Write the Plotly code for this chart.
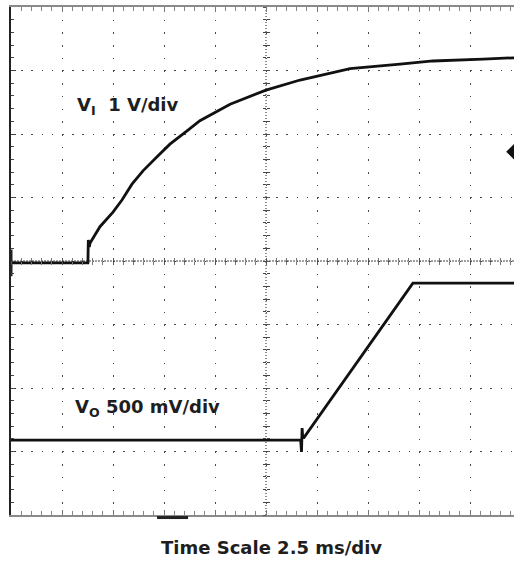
import plotly.graph_objects as go

# ---------------- data ----------------
# time in ms (2.5 ms/div, left graticule edge = 0 ms)
t_vi = [0.0, 1.2, 2.4, 3.77, 3.79, 3.84, 3.87, 4.36, 5.00, 5.44, 5.93, 6.47, 7.16,
        7.79, 8.63, 9.26, 10.74, 12.50, 14.17, 16.62, 19.07, 20.69, 23.14, 24.66]
# input voltage V_I in volts (1 V/div)
v_in = [0.0, 0.0, 0.0, 0.0, 0.36, 0.25, 0.31, 0.57, 0.80, 0.99, 1.24, 1.45, 1.67,
        1.87, 2.08, 2.24, 2.50, 2.72, 2.88, 3.06, 3.13, 3.18, 3.21, 3.23]

t_vo = [0.0, 4.0, 8.0, 12.0, 14.20, 14.24, 14.27, 14.30, 14.36, 19.70, 22.0, 24.66]
# output voltage V_O in volts (500 mV/div)
v_out = [0.0, 0.0, 0.0, 0.0, 0.0, -0.094, 0.094, 0.02, 0.02, 1.236, 1.236, 1.236]

trigger_level_v = 1.75      # trigger marker on the V_I channel (V)

# channel settings: volts per division and ground position (divisions from centre)
ch1_scale, ch1_ground_div = 1.0, -0.03
ch2_scale, ch2_ground_div = 0.5, -2.82

time_per_div = 2.5
visible_divs = 503 / 51
x_range = [0, time_per_div * visible_divs]


def ch_range(scale, ground):
    return [(-4 - ground) * scale, (4 - ground) * scale]


fig = go.Figure()

fig.add_trace(go.Scatter(x=t_vi, y=v_in, xaxis="x", yaxis="y2", mode="lines",
                         line=dict(color="#111111", width=2.8), hoverinfo="skip",
                         showlegend=False))
fig.add_trace(go.Scatter(x=t_vo, y=v_out, xaxis="x", yaxis="y3", mode="lines",
                         line=dict(color="#111111", width=2.8), hoverinfo="skip",
                         showlegend=False))
# trigger level marker (right edge) and channel-1 ground marker (left edge)
fig.add_trace(go.Scatter(x=[x_range[1]], y=[trigger_level_v], xaxis="x", yaxis="y2",
                         mode="markers", marker=dict(symbol="diamond", size=12, color="#111"),
                         hoverinfo="skip", showlegend=False))
fig.add_trace(go.Scatter(x=[0], y=[0], xaxis="x", yaxis="y2", mode="markers",
                         marker=dict(symbol="line-ns", size=19, line=dict(width=3, color="#222")),
                         cliponaxis=False, hoverinfo="skip", showlegend=False))
# dummy traces so the centre-axis tick rulers are drawn
fig.add_trace(go.Scatter(x=[None], y=[None], xaxis="x2", yaxis="y4", showlegend=False,
                         hoverinfo="skip"))
fig.add_trace(go.Scatter(x=[None], y=[None], xaxis="x3", yaxis="y5", showlegend=False,
                         hoverinfo="skip"))

centre_x_frac = 5 / visible_divs

tick_common = dict(showgrid=False, zeroline=False, showline=False, showticklabels=False,
                   tickcolor="#555", tickwidth=1, ticklen=3)

fig.update_layout(
    width=514, height=564,
    margin=dict(l=11, r=0, t=7, b=49),
    paper_bgcolor="white", plot_bgcolor="white",
    showlegend=False,
    hovermode=False,
    xaxis=dict(range=x_range, tick0=0, dtick=time_per_div, showgrid=True,
               gridcolor="#4a4a4a", gridwidth=1, griddash="1.5px,11.2px",
               zeroline=False, showline=True, linecolor="#8a8a8a", linewidth=2,
               mirror="ticks", ticks="inside", ticklen=5, tickcolor="#777",
               minor=dict(dtick=time_per_div / 5, tick0=0, ticks="inside", ticklen=4,
                          tickcolor="#888", showgrid=False),
               showticklabels=False),
    yaxis=dict(range=[-4, 4], tick0=0, dtick=1, showgrid=True, gridcolor="#4a4a4a",
               gridwidth=1, griddash="1.5px,8.7px", zeroline=False, showline=True,
               linecolor="#222", linewidth=2, mirror=False, ticks="inside", ticklen=5,
               tickcolor="#444",
               minor=dict(dtick=0.2, tick0=0, ticks="inside", ticklen=3, tickcolor="#444",
                          showgrid=False),
               showticklabels=False),
    yaxis2=dict(overlaying="y", range=ch_range(ch1_scale, ch1_ground_div), visible=False),
    yaxis3=dict(overlaying="y", range=ch_range(ch2_scale, ch2_ground_div), visible=False),
    xaxis2=dict(overlaying="x", anchor="free", position=0.5, range=x_range, tick0=0,
                dtick=time_per_div, ticks="outside",
                minor=dict(dtick=time_per_div / 5, tick0=0, ticks="outside", ticklen=3,
                           tickcolor="#777"), **tick_common),
    xaxis3=dict(overlaying="x", anchor="free", position=0.5, range=x_range, tick0=0,
                dtick=time_per_div, ticks="inside",
                minor=dict(dtick=time_per_div / 5, tick0=0, ticks="inside", ticklen=3,
                           tickcolor="#777"), **tick_common),
    yaxis4=dict(overlaying="y", anchor="free", position=centre_x_frac, range=[-4, 4],
                tick0=0, dtick=1, ticks="outside",
                minor=dict(dtick=0.2, tick0=0, ticks="outside", ticklen=3, tickcolor="#444"),
                **tick_common),
    yaxis5=dict(overlaying="y", anchor="free", position=centre_x_frac, range=[-4, 4],
                tick0=0, dtick=1, ticks="inside",
                minor=dict(dtick=0.2, tick0=0, ticks="inside", ticklen=3, tickcolor="#444"),
                **tick_common),
    shapes=[
        dict(type="line", xref="paper", yref="y", x0=0, x1=1, y0=0, y1=0, layer="below",
             line=dict(color="#a0a0a0", width=2, dash="2px,1px")),
        dict(type="line", xref="x", yref="paper", x0=5 * time_per_div, x1=5 * time_per_div,
             y0=0, y1=1, layer="below", line=dict(color="#444", width=1.2, dash="1px,2px")),
        dict(type="line", xref="x", yref="paper", x0=7.16, x1=8.68, y0=-0.005, y1=-0.005,
             line=dict(color="#222", width=3)),
    ],
    annotations=[
        dict(text="<b>V<sub>I</sub>  1 V/div</b>", xref="paper", yref="paper",
             x=(75 - 11) / 503, y=(515 - 106) / 508, xanchor="left", yanchor="middle",
             showarrow=False, font=dict(family="DejaVu Sans", size=18, color="#1e1e1e")),
        dict(text="<b>V<sub>O</sub> 500 mV/div</b>", xref="paper", yref="paper",
             x=(73 - 11) / 503, y=(515 - 408) / 508, xanchor="left", yanchor="middle",
             showarrow=False, font=dict(family="DejaVu Sans", size=18, color="#1e1e1e")),
        dict(text="<b>Time Scale 2.5 ms/div</b>", xref="paper", yref="paper",
             x=(271 - 11) / 503, y=(515 - 547) / 508, xanchor="center", yanchor="middle",
             showarrow=False, font=dict(family="DejaVu Sans", size=18, color="#1e1e1e")),
    ],
)

# remove the default 8 px page margin so the 514x564 figure fills the window exactly
fig.write_html("out.html", config={"displayModeBar": False, "staticPlot": True},
               post_script="document.body.style.margin='0px';")
